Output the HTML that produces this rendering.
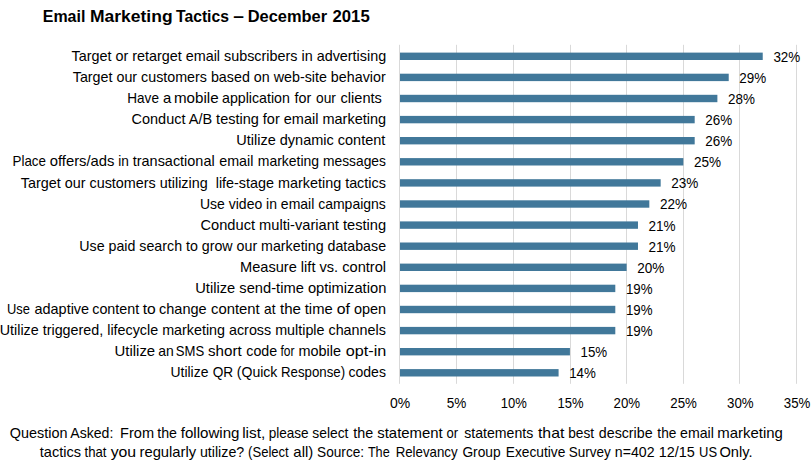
<!DOCTYPE html>
<html><head><meta charset="utf-8"><title>Email Marketing Tactics</title>
<style>
html,body{margin:0;padding:0;background:#fff;}
body{width:811px;height:466px;overflow:hidden;font-family:"Liberation Sans",sans-serif;}
svg{display:block;}
text{font-family:"Liberation Sans",sans-serif;fill:#000;white-space:pre;}
.t{font-size:14.2px;}
.d{font-size:15px;}
.h{font-size:16.5px;font-weight:bold;}
</style></head><body>
<svg width="811" height="466" viewBox="0 0 811 466">
<rect width="811" height="466" fill="#fff"/>
<g id="shapes">
<line x1="399.50" y1="44.8" x2="399.50" y2="383.8" stroke="#d9d9d9" stroke-width="1"/>
<line x1="456.50" y1="44.8" x2="456.50" y2="383.8" stroke="#d9d9d9" stroke-width="1"/>
<line x1="513.50" y1="44.8" x2="513.50" y2="383.8" stroke="#d9d9d9" stroke-width="1"/>
<line x1="570.50" y1="44.8" x2="570.50" y2="383.8" stroke="#d9d9d9" stroke-width="1"/>
<line x1="626.50" y1="44.8" x2="626.50" y2="383.8" stroke="#d9d9d9" stroke-width="1"/>
<line x1="683.50" y1="44.8" x2="683.50" y2="383.8" stroke="#d9d9d9" stroke-width="1"/>
<line x1="739.50" y1="44.8" x2="739.50" y2="383.8" stroke="#d9d9d9" stroke-width="1"/>
<line x1="796.50" y1="44.8" x2="796.50" y2="383.8" stroke="#d9d9d9" stroke-width="1"/>
<rect x="400.00" y="52.60" width="362.74" height="7.40" fill="#41789a"/>
<rect x="400.00" y="73.70" width="328.72" height="7.40" fill="#41789a"/>
<rect x="400.00" y="94.80" width="317.38" height="7.40" fill="#41789a"/>
<rect x="400.00" y="115.90" width="294.69" height="7.40" fill="#41789a"/>
<rect x="400.00" y="137.00" width="294.69" height="7.40" fill="#41789a"/>
<rect x="400.00" y="158.10" width="283.35" height="7.40" fill="#41789a"/>
<rect x="400.00" y="179.20" width="260.67" height="7.40" fill="#41789a"/>
<rect x="400.00" y="200.30" width="249.32" height="7.40" fill="#41789a"/>
<rect x="400.00" y="221.40" width="237.98" height="7.40" fill="#41789a"/>
<rect x="400.00" y="242.50" width="237.98" height="7.40" fill="#41789a"/>
<rect x="400.00" y="263.60" width="226.64" height="7.40" fill="#41789a"/>
<rect x="400.00" y="284.70" width="215.30" height="7.40" fill="#41789a"/>
<rect x="400.00" y="305.80" width="215.30" height="7.40" fill="#41789a"/>
<rect x="400.00" y="326.90" width="215.30" height="7.40" fill="#41789a"/>
<rect x="400.00" y="348.00" width="169.93" height="7.40" fill="#41789a"/>
<rect x="400.00" y="369.10" width="158.59" height="7.40" fill="#41789a"/>
</g>
<g id="texts">
<text id="h0" class="h" x="42.75" y="21.50" textLength="42.61" lengthAdjust="spacingAndGlyphs" xml:space="preserve">Email</text>
<text id="h1" class="h" x="90.00" y="21.50" textLength="82.57" lengthAdjust="spacingAndGlyphs" xml:space="preserve">Marketing</text>
<text id="h2" class="h" x="176.00" y="21.50" textLength="52.92" lengthAdjust="spacingAndGlyphs" xml:space="preserve">Tactics</text>
<text id="h3" class="h" x="233.25" y="21.50" textLength="10.69" lengthAdjust="spacingAndGlyphs" xml:space="preserve">–</text>
<text id="h4" class="h" x="247.75" y="21.50" textLength="79.38" lengthAdjust="spacingAndGlyphs" xml:space="preserve">December</text>
<text id="h5" class="h" x="332.50" y="21.50" textLength="37.18" lengthAdjust="spacingAndGlyphs" xml:space="preserve">2015</text>
<text id="c0" class="t" x="71.50" y="60.90" textLength="314.63" lengthAdjust="spacingAndGlyphs" xml:space="preserve">Target or retarget email subscribers in advertising</text>
<text id="v0" class="d" x="773.40" y="61.70" textLength="26.85" lengthAdjust="spacingAndGlyphs" xml:space="preserve">32%</text>
<text id="c1" class="t" x="72.75" y="82.00" textLength="312.93" lengthAdjust="spacingAndGlyphs" xml:space="preserve">Target our customers based on web-site behavior</text>
<text id="v1" class="d" x="739.35" y="82.80" textLength="26.89" lengthAdjust="spacingAndGlyphs" xml:space="preserve">29%</text>
<text id="c2_0" class="t" x="127.25" y="103.10" textLength="31.68" lengthAdjust="spacingAndGlyphs" xml:space="preserve">Have</text>
<text id="c2_1" class="t" x="163.00" y="103.10" textLength="8.28" lengthAdjust="spacingAndGlyphs" xml:space="preserve">a</text>
<text id="c2_2" class="t" x="174.00" y="103.10" textLength="44.64" lengthAdjust="spacingAndGlyphs" xml:space="preserve">mobile</text>
<text id="c2_3" class="t" x="222.00" y="103.10" textLength="67.86" lengthAdjust="spacingAndGlyphs" xml:space="preserve">application</text>
<text id="c2_4" class="t" x="294.50" y="103.10" textLength="16.72" lengthAdjust="spacingAndGlyphs" xml:space="preserve">for</text>
<text id="c2_5" class="t" x="316.00" y="103.10" textLength="19.95" lengthAdjust="spacingAndGlyphs" xml:space="preserve">our</text>
<text id="c2_6" class="t" x="340.50" y="103.10" textLength="41.40" lengthAdjust="spacingAndGlyphs" xml:space="preserve">clients</text>
<text id="v2" class="d" x="728.00" y="103.90" textLength="26.86" lengthAdjust="spacingAndGlyphs" xml:space="preserve">28%</text>
<text id="c3" class="t" x="131.50" y="124.20" textLength="254.61" lengthAdjust="spacingAndGlyphs" xml:space="preserve">Conduct A/B testing for email marketing</text>
<text id="v3" class="d" x="705.30" y="125.00" textLength="26.90" lengthAdjust="spacingAndGlyphs" xml:space="preserve">26%</text>
<text id="c4" class="t" x="236.25" y="145.30" textLength="149.14" lengthAdjust="spacingAndGlyphs" xml:space="preserve">Utilize dynamic content</text>
<text id="v4" class="d" x="705.30" y="146.10" textLength="26.90" lengthAdjust="spacingAndGlyphs" xml:space="preserve">26%</text>
<text id="c5_0" class="t" x="12.50" y="166.40" textLength="33.45" lengthAdjust="spacingAndGlyphs" xml:space="preserve">Place</text>
<text id="c5_1" class="t" x="49.70" y="166.40" textLength="64.79" lengthAdjust="spacingAndGlyphs" xml:space="preserve">offers/ads</text>
<text id="c5_2" class="t" x="118.25" y="166.40" textLength="10.62" lengthAdjust="spacingAndGlyphs" xml:space="preserve">in</text>
<text id="c5_3" class="t" x="132.75" y="166.40" textLength="81.90" lengthAdjust="spacingAndGlyphs" xml:space="preserve">transactional</text>
<text id="c5_4" class="t" x="219.25" y="166.40" textLength="34.17" lengthAdjust="spacingAndGlyphs" xml:space="preserve">email</text>
<text id="c5_5" class="t" x="257.75" y="166.40" textLength="61.37" lengthAdjust="spacingAndGlyphs" xml:space="preserve">marketing</text>
<text id="c5_6" class="t" x="323.00" y="166.40" textLength="62.89" lengthAdjust="spacingAndGlyphs" xml:space="preserve">messages</text>
<text id="v5" class="d" x="693.95" y="167.20" textLength="27.10" lengthAdjust="spacingAndGlyphs" xml:space="preserve">25%</text>
<text id="c6" class="t" x="20.75" y="187.50" textLength="365.14" lengthAdjust="spacingAndGlyphs" xml:space="preserve">Target our customers utilizing  life-stage marketing tactics</text>
<text id="v6" class="d" x="671.25" y="188.30" textLength="27.12" lengthAdjust="spacingAndGlyphs" xml:space="preserve">23%</text>
<text id="c7" class="t" x="200.00" y="208.60" textLength="185.84" lengthAdjust="spacingAndGlyphs" xml:space="preserve">Use video in email campaigns</text>
<text id="v7" class="d" x="659.90" y="209.40" textLength="27.10" lengthAdjust="spacingAndGlyphs" xml:space="preserve">22%</text>
<text id="c8" class="t" x="200.50" y="229.70" textLength="185.59" lengthAdjust="spacingAndGlyphs" xml:space="preserve">Conduct multi-variant testing</text>
<text id="v8" class="d" x="648.55" y="230.50" textLength="27.13" lengthAdjust="spacingAndGlyphs" xml:space="preserve">21%</text>
<text id="c9" class="t" x="79.25" y="250.80" textLength="306.82" lengthAdjust="spacingAndGlyphs" xml:space="preserve">Use paid search to grow our marketing database</text>
<text id="v9" class="d" x="648.55" y="251.60" textLength="27.13" lengthAdjust="spacingAndGlyphs" xml:space="preserve">21%</text>
<text id="c10" class="t" x="240.00" y="271.90" textLength="146.07" lengthAdjust="spacingAndGlyphs" xml:space="preserve">Measure lift vs. control</text>
<text id="v10" class="d" x="637.20" y="272.70" textLength="27.10" lengthAdjust="spacingAndGlyphs" xml:space="preserve">20%</text>
<text id="c11" class="t" x="195.25" y="293.00" textLength="191.06" lengthAdjust="spacingAndGlyphs" xml:space="preserve">Utilize send-time optimization</text>
<text id="v11" class="d" x="625.95" y="293.80" textLength="26.62" lengthAdjust="spacingAndGlyphs" xml:space="preserve">19%</text>
<text id="c12_0" class="t" x="7.00" y="314.10" textLength="22.95" lengthAdjust="spacingAndGlyphs" xml:space="preserve">Use</text>
<text id="c12_1" class="t" x="34.50" y="314.10" textLength="54.63" lengthAdjust="spacingAndGlyphs" xml:space="preserve">adaptive</text>
<text id="c12_2" class="t" x="92.25" y="314.10" textLength="46.93" lengthAdjust="spacingAndGlyphs" xml:space="preserve">content</text>
<text id="c12_3" class="t" x="142.75" y="314.10" textLength="13.03" lengthAdjust="spacingAndGlyphs" xml:space="preserve">to</text>
<text id="c12_4" class="t" x="159.00" y="314.10" textLength="47.65" lengthAdjust="spacingAndGlyphs" xml:space="preserve">change</text>
<text id="c12_5" class="t" x="211.00" y="314.10" textLength="48.67" lengthAdjust="spacingAndGlyphs" xml:space="preserve">content</text>
<text id="c12_6" class="t" x="264.00" y="314.10" textLength="11.48" lengthAdjust="spacingAndGlyphs" xml:space="preserve">at</text>
<text id="c12_7" class="t" x="280.00" y="314.10" textLength="20.97" lengthAdjust="spacingAndGlyphs" xml:space="preserve">the</text>
<text id="c12_8" class="t" x="304.75" y="314.10" textLength="27.95" lengthAdjust="spacingAndGlyphs" xml:space="preserve">time</text>
<text id="c12_9" class="t" x="336.75" y="314.10" textLength="13.21" lengthAdjust="spacingAndGlyphs" xml:space="preserve">of</text>
<text id="c12_10" class="t" x="354.00" y="314.10" textLength="32.16" lengthAdjust="spacingAndGlyphs" xml:space="preserve">open</text>
<text id="v12" class="d" x="625.95" y="314.90" textLength="26.62" lengthAdjust="spacingAndGlyphs" xml:space="preserve">19%</text>
<text id="c13" class="t" x="-0.25" y="335.20" textLength="386.08" lengthAdjust="spacingAndGlyphs" xml:space="preserve">Utilize triggered, lifecycle marketing across multiple channels</text>
<text id="v13" class="d" x="625.95" y="336.00" textLength="26.62" lengthAdjust="spacingAndGlyphs" xml:space="preserve">19%</text>
<text id="c14_0" class="t" x="114.50" y="356.30" textLength="40.66" lengthAdjust="spacingAndGlyphs" xml:space="preserve">Utilize</text>
<text id="c14_1" class="t" x="158.25" y="356.30" textLength="15.52" lengthAdjust="spacingAndGlyphs" xml:space="preserve">an</text>
<text id="c14_2" class="t" x="175.75" y="356.30" textLength="28.42" lengthAdjust="spacingAndGlyphs" xml:space="preserve">SMS</text>
<text id="c14_3" class="t" x="208.00" y="356.30" textLength="33.68" lengthAdjust="spacingAndGlyphs" xml:space="preserve">short</text>
<text id="c14_4" class="t" x="246.25" y="356.30" textLength="30.92" lengthAdjust="spacingAndGlyphs" xml:space="preserve">code</text>
<text id="c14_5" class="t" x="280.50" y="356.30" textLength="14.08" lengthAdjust="spacingAndGlyphs" xml:space="preserve">for</text>
<text id="c14_6" class="t" x="298.50" y="356.30" textLength="42.59" lengthAdjust="spacingAndGlyphs" xml:space="preserve">mobile</text>
<text id="c14_7" class="t" x="345.75" y="356.30" textLength="40.59" lengthAdjust="spacingAndGlyphs" xml:space="preserve">opt-in</text>
<text id="v14" class="d" x="580.55" y="357.10" textLength="26.65" lengthAdjust="spacingAndGlyphs" xml:space="preserve">15%</text>
<text id="c15_0" class="t" x="170.50" y="377.40" textLength="37.90" lengthAdjust="spacingAndGlyphs" xml:space="preserve">Utilize</text>
<text id="c15_1" class="t" x="212.75" y="377.40" textLength="20.48" lengthAdjust="spacingAndGlyphs" xml:space="preserve">QR</text>
<text id="c15_2" class="t" x="236.75" y="377.40" textLength="40.65" lengthAdjust="spacingAndGlyphs" xml:space="preserve">(Quick</text>
<text id="c15_3" class="t" x="281.00" y="377.40" textLength="64.05" lengthAdjust="spacingAndGlyphs" xml:space="preserve">Response)</text>
<text id="c15_4" class="t" x="348.50" y="377.40" textLength="37.41" lengthAdjust="spacingAndGlyphs" xml:space="preserve">codes</text>
<text id="v15" class="d" x="569.20" y="378.20" textLength="26.65" lengthAdjust="spacingAndGlyphs" xml:space="preserve">14%</text>
<text id="a0" class="d" x="389.95" y="408.10" textLength="20.20" lengthAdjust="spacingAndGlyphs" xml:space="preserve">0%</text>
<text id="a1" class="d" x="446.83" y="408.10" textLength="19.60" lengthAdjust="spacingAndGlyphs" xml:space="preserve">5%</text>
<text id="a2" class="d" x="500.80" y="408.10" textLength="26.07" lengthAdjust="spacingAndGlyphs" xml:space="preserve">10%</text>
<text id="a3" class="d" x="557.55" y="408.10" textLength="26.04" lengthAdjust="spacingAndGlyphs" xml:space="preserve">15%</text>
<text id="a4" class="d" x="613.55" y="408.10" textLength="26.57" lengthAdjust="spacingAndGlyphs" xml:space="preserve">20%</text>
<text id="a5" class="d" x="670.30" y="408.10" textLength="26.61" lengthAdjust="spacingAndGlyphs" xml:space="preserve">25%</text>
<text id="a6" class="d" x="727.05" y="408.10" textLength="26.62" lengthAdjust="spacingAndGlyphs" xml:space="preserve">30%</text>
<text id="a7" class="d" x="783.80" y="408.10" textLength="26.56" lengthAdjust="spacingAndGlyphs" xml:space="preserve">35%</text>
<text id="p0" class="t" x="9.75" y="437.50" textLength="57.69" lengthAdjust="spacingAndGlyphs" xml:space="preserve">Question</text>
<text id="p1" class="t" x="70.25" y="437.50" textLength="43.06" lengthAdjust="spacingAndGlyphs" xml:space="preserve">Asked:</text>
<text id="p2" class="t" x="120.10" y="437.50" textLength="33.99" lengthAdjust="spacingAndGlyphs" xml:space="preserve">From</text>
<text id="p3" class="t" x="157.25" y="437.50" textLength="19.80" lengthAdjust="spacingAndGlyphs" xml:space="preserve">the</text>
<text id="p4" class="t" x="180.75" y="437.50" textLength="58.78" lengthAdjust="spacingAndGlyphs" xml:space="preserve">following</text>
<text id="p5" class="t" x="242.20" y="437.50" textLength="23.12" lengthAdjust="spacingAndGlyphs" xml:space="preserve">list,</text>
<text id="p6" class="t" x="268.70" y="437.50" textLength="39.96" lengthAdjust="spacingAndGlyphs" xml:space="preserve">please</text>
<text id="p7" class="t" x="312.30" y="437.50" textLength="36.15" lengthAdjust="spacingAndGlyphs" xml:space="preserve">select</text>
<text id="p8" class="t" x="353.25" y="437.50" textLength="19.95" lengthAdjust="spacingAndGlyphs" xml:space="preserve">the</text>
<text id="p9" class="t" x="377.25" y="437.50" textLength="65.51" lengthAdjust="spacingAndGlyphs" xml:space="preserve">statement</text>
<text id="p10" class="t" x="446.45" y="437.50" textLength="11.61" lengthAdjust="spacingAndGlyphs" xml:space="preserve">or</text>
<text id="p11" class="t" x="464.25" y="437.50" textLength="68.94" lengthAdjust="spacingAndGlyphs" xml:space="preserve">statements</text>
<text id="p12" class="t" x="537.95" y="437.50" textLength="26.39" lengthAdjust="spacingAndGlyphs" xml:space="preserve">that</text>
<text id="p13" class="t" x="568.20" y="437.50" textLength="25.91" lengthAdjust="spacingAndGlyphs" xml:space="preserve">best</text>
<text id="p14" class="t" x="598.80" y="437.50" textLength="53.82" lengthAdjust="spacingAndGlyphs" xml:space="preserve">describe</text>
<text id="p15" class="t" x="657.35" y="437.50" textLength="19.00" lengthAdjust="spacingAndGlyphs" xml:space="preserve">the</text>
<text id="p16" class="t" x="680.10" y="437.50" textLength="33.77" lengthAdjust="spacingAndGlyphs" xml:space="preserve">email</text>
<text id="p17" class="t" x="717.20" y="437.50" textLength="65.67" lengthAdjust="spacingAndGlyphs" xml:space="preserve">marketing</text>
<text id="q0" class="t" x="39.75" y="457.00" textLength="41.26" lengthAdjust="spacingAndGlyphs" xml:space="preserve">tactics</text>
<text id="q1" class="t" x="84.50" y="457.00" textLength="21.95" lengthAdjust="spacingAndGlyphs" xml:space="preserve">that</text>
<text id="q2" class="t" x="110.65" y="457.00" textLength="25.48" lengthAdjust="spacingAndGlyphs" xml:space="preserve">you</text>
<text id="q3" class="t" x="139.50" y="457.00" textLength="56.71" lengthAdjust="spacingAndGlyphs" xml:space="preserve">regularly</text>
<text id="q4" class="t" x="199.90" y="457.00" textLength="44.36" lengthAdjust="spacingAndGlyphs" xml:space="preserve">utilize?</text>
<text id="q5" class="t" x="248.10" y="457.00" textLength="40.66" lengthAdjust="spacingAndGlyphs" xml:space="preserve">(Select</text>
<text id="q6" class="t" x="293.35" y="457.00" textLength="19.90" lengthAdjust="spacingAndGlyphs" xml:space="preserve">all)</text>
<text id="q7" class="t" x="317.05" y="457.00" textLength="47.06" lengthAdjust="spacingAndGlyphs" xml:space="preserve">Source:</text>
<text id="q8" class="t" x="367.90" y="457.00" textLength="21.81" lengthAdjust="spacingAndGlyphs" xml:space="preserve">The</text>
<text id="q9" class="t" x="395.65" y="457.00" textLength="62.02" lengthAdjust="spacingAndGlyphs" xml:space="preserve">Relevancy</text>
<text id="q10" class="t" x="462.40" y="457.00" textLength="38.24" lengthAdjust="spacingAndGlyphs" xml:space="preserve">Group</text>
<text id="q11" class="t" x="505.80" y="457.00" textLength="59.58" lengthAdjust="spacingAndGlyphs" xml:space="preserve">Executive</text>
<text id="q12" class="t" x="568.70" y="457.00" textLength="41.96" lengthAdjust="spacingAndGlyphs" xml:space="preserve">Survey</text>
<text id="q13" class="t" x="614.85" y="457.00" textLength="39.69" lengthAdjust="spacingAndGlyphs" xml:space="preserve">n=402</text>
<text id="q14" class="t" x="658.65" y="457.00" textLength="36.09" lengthAdjust="spacingAndGlyphs" xml:space="preserve">12/15</text>
<text id="q15" class="t" x="699.05" y="457.00" textLength="18.02" lengthAdjust="spacingAndGlyphs" xml:space="preserve">US</text>
<text id="q16" class="t" x="719.45" y="457.00" textLength="33.13" lengthAdjust="spacingAndGlyphs" xml:space="preserve">Only.</text>
</g>
</svg>
</body></html>
